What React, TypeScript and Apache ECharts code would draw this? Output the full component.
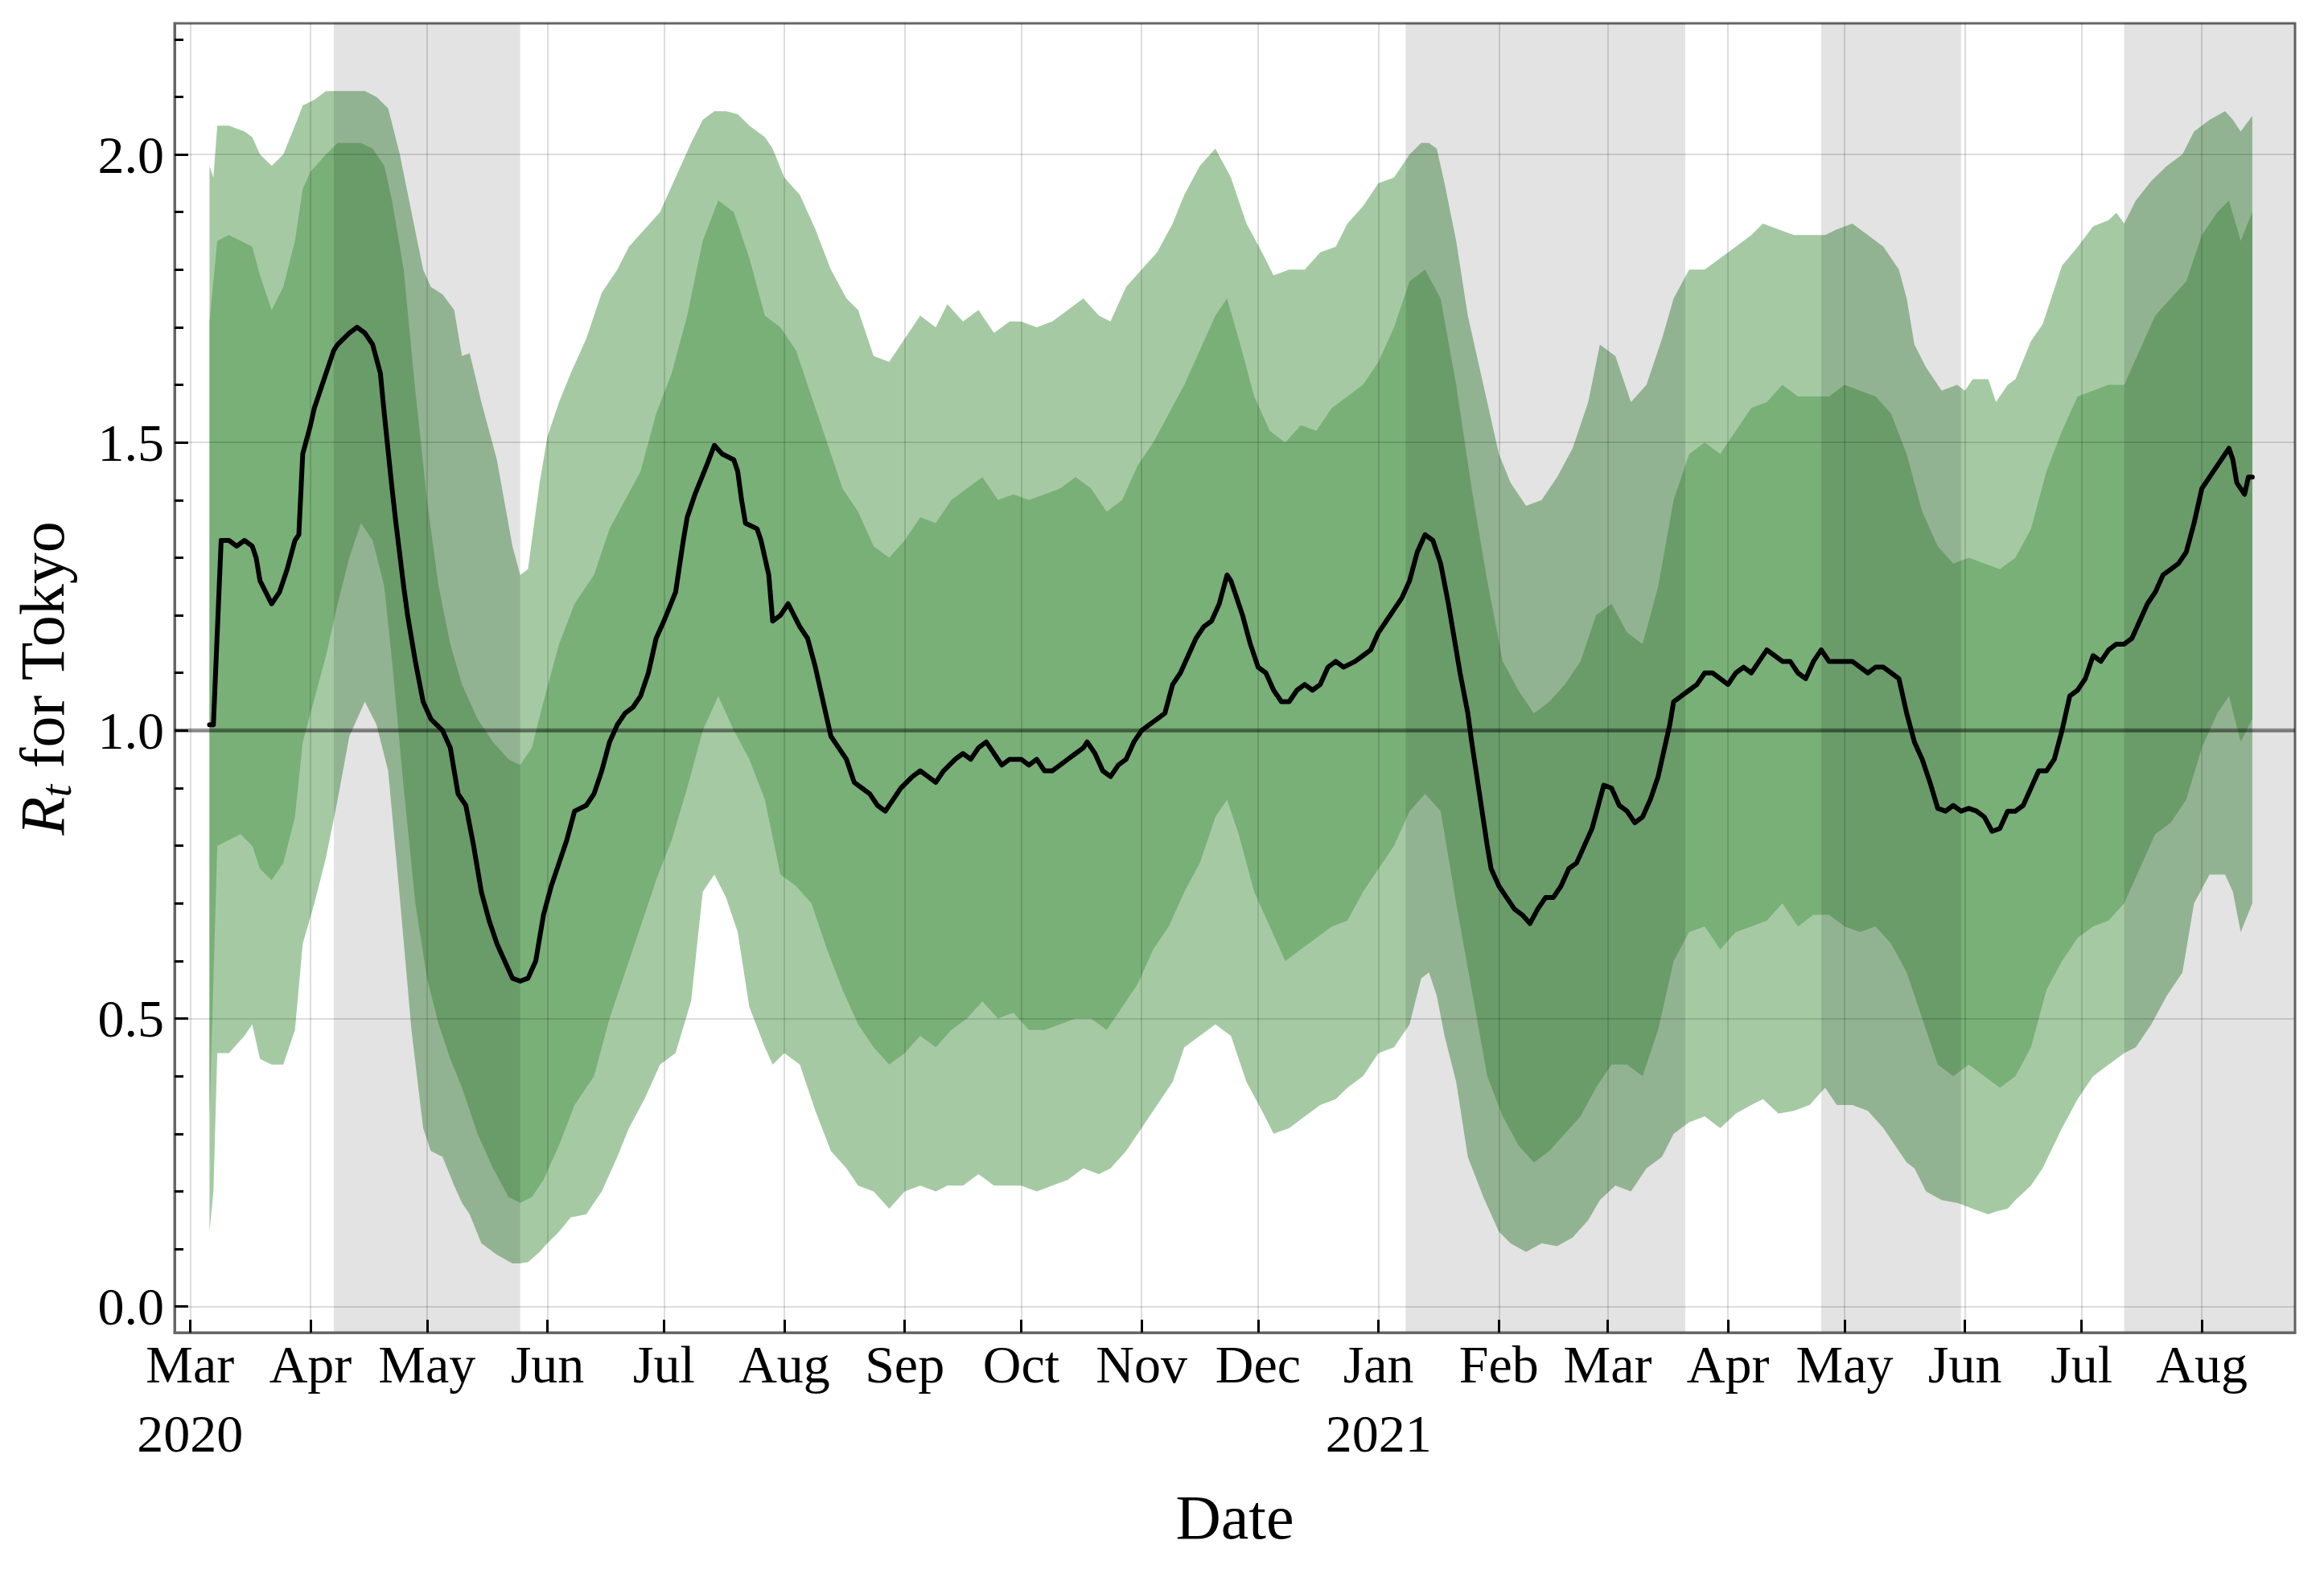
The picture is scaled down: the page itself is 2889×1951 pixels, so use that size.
import React, { useEffect, useRef } from "react";
import * as echarts from "echarts";

// Day offsets are counted from 2020-03-01 (day 0).
const AXIS_START = [2020, 1, 26]; // 2020-02-26
const AXIS_DAYS = 547; // through 2021-08-25
const MONTHS = ["Jan", "Feb", "Mar", "Apr", "May", "Jun", "Jul", "Aug", "Sep", "Oct", "Nov", "Dec"];
const Y_TICKS = [0, 0.5, 1.0, 1.5, 2.0];
const REFERENCE_R = 1.0;

// State-of-emergency periods (gray spans)
const emergencyPeriods: [string, string][] = [
  ["2020-04-07", "2020-05-25"],
  ["2021-01-08", "2021-03-21"],
  ["2021-04-25", "2021-05-31"],
  ["2021-07-12", "2021-08-25"],
];

// Rt median: [day, value]
const rtMedian: [number, number][] = [
  [5, 1.01], [6, 1.01], [8, 1.33], [10, 1.33], [12, 1.32], [14, 1.33], [16, 1.32], [17, 1.3], [18, 1.26], [21, 1.22],
  [23, 1.24], [25, 1.28], [27, 1.33], [28, 1.34], [29, 1.48], [31, 1.53], [32, 1.56], [35, 1.62], [37, 1.66], [38, 1.67],
  [41, 1.69], [43, 1.7], [45, 1.69], [47, 1.67], [49, 1.62], [50, 1.55], [52, 1.42], [53, 1.36], [55, 1.25], [56, 1.2],
  [58, 1.12], [60, 1.05], [62, 1.02], [65, 1.0], [67, 0.97], [69, 0.89], [71, 0.87], [73, 0.8], [75, 0.72], [77, 0.67],
  [79, 0.63], [81, 0.6], [83, 0.57], [85, 0.565], [87, 0.57], [89, 0.6], [91, 0.68], [93, 0.73], [95, 0.77], [97, 0.81],
  [99, 0.86], [102, 0.87], [104, 0.89], [106, 0.93], [108, 0.98], [110, 1.01], [112, 1.03], [114, 1.04], [116, 1.06], [118, 1.1],
  [120, 1.16], [122, 1.19], [125, 1.24], [127, 1.33], [128, 1.37], [130, 1.41], [133, 1.46], [135, 1.495], [137, 1.48], [140, 1.47],
  [141, 1.45], [142, 1.4], [143, 1.36], [146, 1.35], [147, 1.33], [149, 1.27], [150, 1.19], [152, 1.2], [154, 1.22], [157, 1.18],
  [159, 1.16], [161, 1.11], [163, 1.05], [165, 0.99], [167, 0.97], [169, 0.95], [171, 0.91], [173, 0.9], [175, 0.89], [177, 0.87],
  [179, 0.86], [181, 0.88], [183, 0.9], [186, 0.92], [188, 0.93], [190, 0.92], [192, 0.91], [194, 0.93], [197, 0.95], [199, 0.96],
  [201, 0.95], [203, 0.97], [205, 0.98], [207, 0.96], [209, 0.94], [211, 0.95], [214, 0.95], [216, 0.94], [218, 0.95], [220, 0.93],
  [222, 0.93], [224, 0.94], [226, 0.95], [228, 0.96], [230, 0.97], [231, 0.98], [233, 0.96], [235, 0.93], [237, 0.92], [239, 0.94],
  [241, 0.95], [243, 0.98], [245, 1.0], [247, 1.01], [249, 1.02], [251, 1.03], [253, 1.08], [255, 1.1], [257, 1.13], [259, 1.16],
  [261, 1.18], [263, 1.19], [265, 1.22], [267, 1.27], [268, 1.26], [270, 1.22], [271, 1.2], [273, 1.15], [275, 1.11], [277, 1.1],
  [279, 1.07], [281, 1.05], [283, 1.05], [285, 1.07], [287, 1.08], [289, 1.07], [291, 1.08], [293, 1.11], [295, 1.12], [297, 1.11],
  [300, 1.12], [302, 1.13], [304, 1.14], [306, 1.17], [308, 1.19], [310, 1.21], [312, 1.23], [314, 1.26], [316, 1.31], [318, 1.34],
  [320, 1.33], [322, 1.29], [324, 1.22], [326, 1.14], [327, 1.1], [329, 1.03], [330, 0.98], [332, 0.89], [334, 0.8], [335, 0.76],
  [337, 0.73], [339, 0.71], [341, 0.69], [343, 0.68], [345, 0.665], [347, 0.69], [349, 0.71], [351, 0.71], [353, 0.73], [355, 0.76],
  [357, 0.77], [359, 0.8], [361, 0.83], [363, 0.88], [364, 0.905], [366, 0.9], [368, 0.87], [370, 0.86], [372, 0.84], [374, 0.85],
  [376, 0.88], [378, 0.92], [379, 0.95], [381, 1.01], [382, 1.05], [384, 1.06], [386, 1.07], [388, 1.08], [390, 1.1], [392, 1.1],
  [394, 1.09], [396, 1.08], [398, 1.1], [400, 1.11], [402, 1.1], [404, 1.12], [406, 1.14], [408, 1.13], [410, 1.12], [412, 1.12],
  [414, 1.1], [416, 1.09], [418, 1.12], [420, 1.14], [422, 1.12], [424, 1.12], [426, 1.12], [428, 1.12], [430, 1.11], [432, 1.1],
  [434, 1.11], [436, 1.11], [438, 1.1], [440, 1.09], [442, 1.03], [444, 0.98], [446, 0.95], [448, 0.91], [450, 0.865], [452, 0.86],
  [454, 0.87], [456, 0.86], [458, 0.865], [460, 0.86], [462, 0.85], [464, 0.825], [466, 0.83], [468, 0.86], [470, 0.86], [472, 0.87],
  [474, 0.9], [476, 0.93], [478, 0.93], [480, 0.95], [482, 1.0], [484, 1.06], [486, 1.07], [488, 1.09], [490, 1.13], [492, 1.12],
  [494, 1.14], [496, 1.15], [498, 1.15], [500, 1.16], [502, 1.19], [504, 1.22], [506, 1.24], [508, 1.27], [510, 1.28], [512, 1.29],
  [514, 1.31], [516, 1.36], [518, 1.42], [520, 1.44], [522, 1.46], [524, 1.48], [525, 1.49], [526, 1.47], [527, 1.43], [529, 1.41],
  [530, 1.44], [531, 1.44],
];

// 95% credible interval: [day, lower, upper]
const ci95: [number, number, number][] = [
  [5, 0.13, 1.98], [6, 0.2, 1.96], [7, 0.44, 2.05], [10, 0.44, 2.05], [14, 0.47, 2.04], [16, 0.49, 2.03], [18, 0.43, 2.0], [21, 0.42, 1.98], [24, 0.42, 2.0], [27, 0.48, 2.05],
  [29, 0.63, 2.085], [32, 0.7, 2.095], [35, 0.78, 2.11], [38, 0.88, 2.11], [41, 0.99, 2.11], [45, 1.05, 2.11], [48, 1.01, 2.1], [51, 0.93, 2.08], [54, 0.71, 2.0], [57, 0.48, 1.9],
  [60, 0.31, 1.8], [62, 0.27, 1.77], [65, 0.26, 1.757], [68, 0.21, 1.73], [70, 0.18, 1.65], [72, 0.16, 1.655], [75, 0.11, 1.57], [79, 0.09, 1.47], [83, 0.075, 1.32], [85, 0.075, 1.27],
  [87, 0.077, 1.28], [90, 0.095, 1.43], [92, 0.11, 1.51], [95, 0.13, 1.57], [98, 0.155, 1.62], [102, 0.16, 1.68], [106, 0.2, 1.76], [110, 0.26, 1.8], [113, 0.31, 1.84], [117, 0.36, 1.87],
  [121, 0.42, 1.9], [125, 0.44, 1.96], [129, 0.53, 2.02], [132, 0.72, 2.06], [135, 0.75, 2.075], [138, 0.71, 2.075], [141, 0.65, 2.07], [144, 0.52, 2.05], [148, 0.45, 2.03], [150, 0.42, 2.01],
  [153, 0.44, 1.96], [157, 0.42, 1.93], [161, 0.34, 1.87], [165, 0.27, 1.8], [169, 0.24, 1.75], [172, 0.21, 1.73], [176, 0.2, 1.65], [180, 0.17, 1.64], [184, 0.2, 1.68], [188, 0.21, 1.72],
  [192, 0.2, 1.7], [195, 0.21, 1.74], [199, 0.21, 1.71], [203, 0.23, 1.73], [207, 0.21, 1.69], [211, 0.21, 1.71], [214, 0.21, 1.71], [218, 0.2, 1.7], [222, 0.21, 1.71], [226, 0.22, 1.73],
  [230, 0.24, 1.75], [234, 0.23, 1.72], [237, 0.24, 1.71], [241, 0.27, 1.77], [245, 0.31, 1.8], [249, 0.35, 1.83], [253, 0.39, 1.88], [256, 0.45, 1.93], [260, 0.47, 1.98], [264, 0.49, 2.01],
  [268, 0.47, 1.96], [272, 0.39, 1.88], [276, 0.34, 1.83], [279, 0.3, 1.79], [283, 0.31, 1.8], [287, 0.33, 1.8], [291, 0.35, 1.83], [295, 0.36, 1.84], [298, 0.38, 1.88], [302, 0.4, 1.91],
  [306, 0.44, 1.95], [310, 0.45, 1.96], [314, 0.49, 2.0], [317, 0.57, 2.02], [319, 0.58, 2.02], [321, 0.54, 2.01], [323, 0.47, 1.95], [326, 0.39, 1.85], [329, 0.26, 1.72], [333, 0.19, 1.6],
  [337, 0.13, 1.48], [340, 0.11, 1.43], [344, 0.095, 1.39], [348, 0.11, 1.4], [352, 0.105, 1.44], [356, 0.12, 1.49], [360, 0.15, 1.57], [363, 0.185, 1.67], [367, 0.21, 1.65], [371, 0.2, 1.57],
  [375, 0.24, 1.6], [379, 0.26, 1.68], [382, 0.3, 1.75], [386, 0.32, 1.8], [390, 0.33, 1.8], [394, 0.31, 1.82], [398, 0.335, 1.84], [402, 0.35, 1.86], [405, 0.36, 1.88], [409, 0.335, 1.87],
  [413, 0.34, 1.86], [417, 0.35, 1.86], [421, 0.38, 1.86], [424, 0.35, 1.87], [428, 0.35, 1.88], [432, 0.34, 1.86], [436, 0.31, 1.84], [440, 0.27, 1.8], [442, 0.25, 1.75], [444, 0.24, 1.67],
  [447, 0.2, 1.63], [451, 0.185, 1.59], [455, 0.18, 1.6], [457, 0.175, 1.59], [459, 0.17, 1.61], [463, 0.16, 1.61], [465, 0.165, 1.57], [468, 0.17, 1.6], [470, 0.185, 1.61], [474, 0.21, 1.676],
  [477, 0.24, 1.705], [482, 0.31, 1.807], [486, 0.36, 1.839], [490, 0.4, 1.875], [494, 0.42, 1.886], [496, 0.43, 1.899], [498, 0.44, 1.88], [501, 0.45, 1.92], [505, 0.49, 1.954], [509, 0.54, 1.98],
  [513, 0.58, 2.0], [516, 0.7, 2.04], [520, 0.75, 2.06], [524, 0.75, 2.075], [526, 0.72, 2.06], [528, 0.65, 2.04], [531, 0.7, 2.067],
];

// 50% credible interval: [day, lower, upper]
const ci50: [number, number, number][] = [
  [5, 0.33, 1.71], [7, 0.8, 1.85], [10, 0.81, 1.86], [13, 0.82, 1.85], [16, 0.8, 1.84], [18, 0.76, 1.79], [21, 0.74, 1.73], [24, 0.77, 1.77], [27, 0.85, 1.85], [29, 0.98, 1.94],
  [31, 1.03, 1.97], [35, 1.13, 2.0], [38, 1.22, 2.02], [41, 1.3, 2.02], [44, 1.36, 2.02], [47, 1.33, 2.01], [50, 1.25, 1.98], [52, 1.12, 1.92], [55, 0.9, 1.8], [58, 0.7, 1.59],
  [61, 0.57, 1.4], [64, 0.49, 1.25], [67, 0.43, 1.15], [70, 0.38, 1.08], [74, 0.3, 1.02], [78, 0.24, 0.98], [82, 0.19, 0.95], [85, 0.18, 0.94], [88, 0.19, 0.97], [91, 0.22, 1.05],
  [95, 0.28, 1.15], [99, 0.35, 1.22], [104, 0.4, 1.27], [108, 0.5, 1.35], [112, 0.58, 1.4], [116, 0.66, 1.45], [120, 0.74, 1.55], [124, 0.81, 1.62], [128, 0.9, 1.72], [132, 1.0, 1.85],
  [136, 1.06, 1.92], [140, 1.0, 1.9], [144, 0.95, 1.82], [148, 0.88, 1.72], [152, 0.75, 1.7], [156, 0.73, 1.66], [160, 0.7, 1.58], [164, 0.62, 1.5], [168, 0.55, 1.42], [172, 0.49, 1.38],
  [176, 0.45, 1.32], [180, 0.42, 1.3], [184, 0.44, 1.33], [188, 0.47, 1.37], [192, 0.45, 1.36], [196, 0.48, 1.4], [200, 0.5, 1.42], [204, 0.53, 1.44], [208, 0.5, 1.4], [212, 0.51, 1.41],
  [216, 0.48, 1.4], [220, 0.48, 1.41], [224, 0.49, 1.42], [228, 0.5, 1.44], [232, 0.5, 1.42], [236, 0.48, 1.38], [240, 0.52, 1.4], [244, 0.56, 1.46], [248, 0.62, 1.5], [252, 0.66, 1.55],
  [256, 0.72, 1.6], [260, 0.77, 1.66], [264, 0.85, 1.72], [267, 0.88, 1.75], [270, 0.82, 1.68], [274, 0.72, 1.58], [278, 0.66, 1.52], [282, 0.6, 1.5], [286, 0.62, 1.53], [290, 0.64, 1.52],
  [294, 0.66, 1.56], [298, 0.67, 1.58], [302, 0.72, 1.6], [306, 0.76, 1.64], [310, 0.8, 1.7], [314, 0.86, 1.78], [318, 0.89, 1.8], [322, 0.86, 1.75], [326, 0.7, 1.6], [330, 0.55, 1.42],
  [334, 0.4, 1.26], [338, 0.33, 1.12], [342, 0.28, 1.07], [346, 0.25, 1.03], [350, 0.27, 1.05], [354, 0.3, 1.08], [358, 0.33, 1.12], [362, 0.38, 1.2], [366, 0.42, 1.22], [370, 0.42, 1.17],
  [374, 0.4, 1.15], [378, 0.48, 1.25], [382, 0.6, 1.4], [386, 0.65, 1.48], [390, 0.66, 1.5], [394, 0.62, 1.48], [398, 0.65, 1.52], [402, 0.66, 1.56], [406, 0.67, 1.57], [410, 0.7, 1.6],
  [414, 0.66, 1.58], [418, 0.68, 1.58], [422, 0.68, 1.58], [426, 0.66, 1.6], [430, 0.65, 1.59], [434, 0.66, 1.58], [438, 0.63, 1.55], [442, 0.58, 1.48], [446, 0.5, 1.38], [450, 0.42, 1.32],
  [454, 0.4, 1.29], [458, 0.42, 1.3], [462, 0.4, 1.29], [466, 0.38, 1.28], [470, 0.4, 1.3], [474, 0.45, 1.35], [478, 0.55, 1.45], [482, 0.6, 1.52], [486, 0.64, 1.58], [490, 0.66, 1.59],
  [494, 0.67, 1.6], [498, 0.7, 1.6], [502, 0.76, 1.66], [506, 0.82, 1.72], [510, 0.84, 1.75], [514, 0.88, 1.78], [518, 0.97, 1.86], [522, 1.03, 1.9], [525, 1.06, 1.92], [528, 0.98, 1.85],
  [531, 1.02, 1.9],
];

const FONT = "'Liberation Serif', 'Times New Roman', serif";

function fmt(d: Date): string {
  const y = d.getFullYear();
  const m = String(d.getMonth() + 1).padStart(2, "0");
  const dd = String(d.getDate()).padStart(2, "0");
  return `${y}-${m}-${dd}`;
}
const dayToCat = (day: number) => fmt(new Date(2020, 2, 1 + day));

const categories: string[] = [];
for (let i = 0; i < AXIS_DAYS; i++) {
  categories.push(fmt(new Date(AXIS_START[0], AXIS_START[1], AXIS_START[2] + i)));
}

const isMonthStart = (_i: number, v: string) => typeof v === "string" && v.slice(8) === "01";

export default function App() {
  const ref = useRef<HTMLDivElement>(null);
  useEffect(() => {
    if (!ref.current) return;
    document.body.style.margin = "0";
    const chart = echarts.init(ref.current, null, { renderer: "svg" });

    const lo95 = ci95.map(([d, lo]) => [dayToCat(d), lo]);
    const span95 = ci95.map(([d, lo, hi]) => [dayToCat(d), +(hi - lo).toFixed(4)]);
    const lo50 = ci50.map(([d, lo]) => [dayToCat(d), lo]);
    const span50 = ci50.map(([d, lo, hi]) => [dayToCat(d), +(hi - lo).toFixed(4)]);
    const rt = rtMedian.map(([d, v]) => [dayToCat(d), v]);

    const hidden = { width: 0, opacity: 0 };

    chart.setOption({
      animation: false,
      backgroundColor: "#ffffff",
      grid: {
        left: 217,
        right: 36,
        top: 29,
        bottom: 294,
        show: true,
        borderColor: "#666666",
        borderWidth: 3,
        backgroundColor: "transparent",
        containLabel: false,
        outerBoundsMode: "none",
      },
      xAxis: {
        type: "category",
        data: categories,
        boundaryGap: false,
        z: 2,
        axisLine: { show: true, onZero: false, lineStyle: { color: "#666666", width: 3 } },
        axisTick: { show: true, inside: true, length: 16, interval: isMonthStart, lineStyle: { color: "#000", width: 3 } },
        axisLabel: {
          interval: isMonthStart,
          margin: -4,
          fontFamily: FONT,
          fontSize: 66,
          lineHeight: 86,
          color: "#000",
          formatter: (v: string) => {
            const m = parseInt(v.slice(5, 7), 10) - 1;
            const y = v.slice(0, 4);
            if (v === "2020-03-01" || m === 0) return `${MONTHS[m]}\n${y}`;
            return MONTHS[m];
          },
        },
        splitLine: { show: true, interval: isMonthStart, lineStyle: { color: "rgba(0,0,0,0.18)", width: 1.5 } },
        name: "Date",
        nameLocation: "middle",
        nameGap: 190,
        nameTextStyle: { fontFamily: FONT, fontSize: 78, color: "#000" },
      },
      yAxis: {
        type: "value",
        min: -0.0451,
        max: 2.2276,
        splitNumber: 5,
        z: 2,
        axisLine: { show: true, onZero: false, lineStyle: { color: "#666666", width: 3 } },
        axisTick: { show: true, inside: true, length: 17, customValues: Y_TICKS, lineStyle: { color: "#000", width: 3 } },
        minorTick: { show: true, splitNumber: 5, length: 11, lineStyle: { color: "#000", width: 3 } },
        axisLabel: {
          customValues: Y_TICKS,
          margin: 13,
          fontFamily: FONT,
          fontSize: 66,
          color: "#000",
          formatter: (v: number) => (Math.abs(v * 2 - Math.round(v * 2)) < 1e-6 ? v.toFixed(1) : ""),
        },
        splitLine: { show: true, lineStyle: { color: "rgba(0,0,0,0.18)", width: 1.5 } },
        name: "{i|R}{s|t} for Tokyo",
        nameLocation: "middle",
        nameRotate: 90,
        nameGap: 120,
        nameTextStyle: {
          fontFamily: FONT,
          fontSize: 78,
          lineHeight: 90,
          color: "#000",
          rich: {
            i: { fontFamily: FONT, fontStyle: "italic", fontSize: 78, lineHeight: 90, color: "#000" },
            s: { fontFamily: FONT, fontStyle: "italic", fontSize: 55, lineHeight: 56, verticalAlign: "bottom", color: "#000" },
          },
        },
      },
      series: [
        {
          type: "line",
          stack: "ci95",
          data: lo95,
          symbol: "none",
          showSymbol: false,
          lineStyle: hidden,
          silent: true,
          z: 0,
          markArea: {
            silent: true,
            z: 1,
            label: { show: false },
            itemStyle: { color: "rgba(0,0,0,0.11)", borderWidth: 0 },
            data: emergencyPeriods.map(([a, b]) => [{ xAxis: a }, { xAxis: b }]),
          },
        },
        {
          type: "line",
          stack: "ci95",
          data: span95,
          symbol: "none",
          showSymbol: false,
          lineStyle: hidden,
          areaStyle: { color: "#a5caa3", opacity: 1 },
          silent: true,
          z: 0,
        },
        {
          type: "line",
          stack: "ci50",
          data: lo50,
          symbol: "none",
          showSymbol: false,
          lineStyle: hidden,
          silent: true,
          z: 0,
        },
        {
          type: "line",
          stack: "ci50",
          data: span50,
          symbol: "none",
          showSymbol: false,
          lineStyle: hidden,
          areaStyle: { color: "#78b077", opacity: 1 },
          silent: true,
          z: 0,
        },
        {
          type: "line",
          data: [
            [categories[0], REFERENCE_R],
            [categories[categories.length - 1], REFERENCE_R],
          ],
          symbol: "none",
          showSymbol: false,
          lineStyle: { color: "rgba(0,0,0,0.4)", width: 5 },
          silent: true,
          z: 2,
        },
        {
          type: "line",
          data: rt,
          symbol: "none",
          showSymbol: false,
          lineStyle: { color: "#000", width: 6, join: "round", cap: "round" },
          silent: true,
          z: 3,
        },
      ],
    });
    return () => chart.dispose();
  }, []);
  return (
    <div
      ref={ref}
      style={{ position: "absolute", left: 0, top: 0, width: "2889px", height: "1951px", background: "#fff" }}
    />
  );
}
